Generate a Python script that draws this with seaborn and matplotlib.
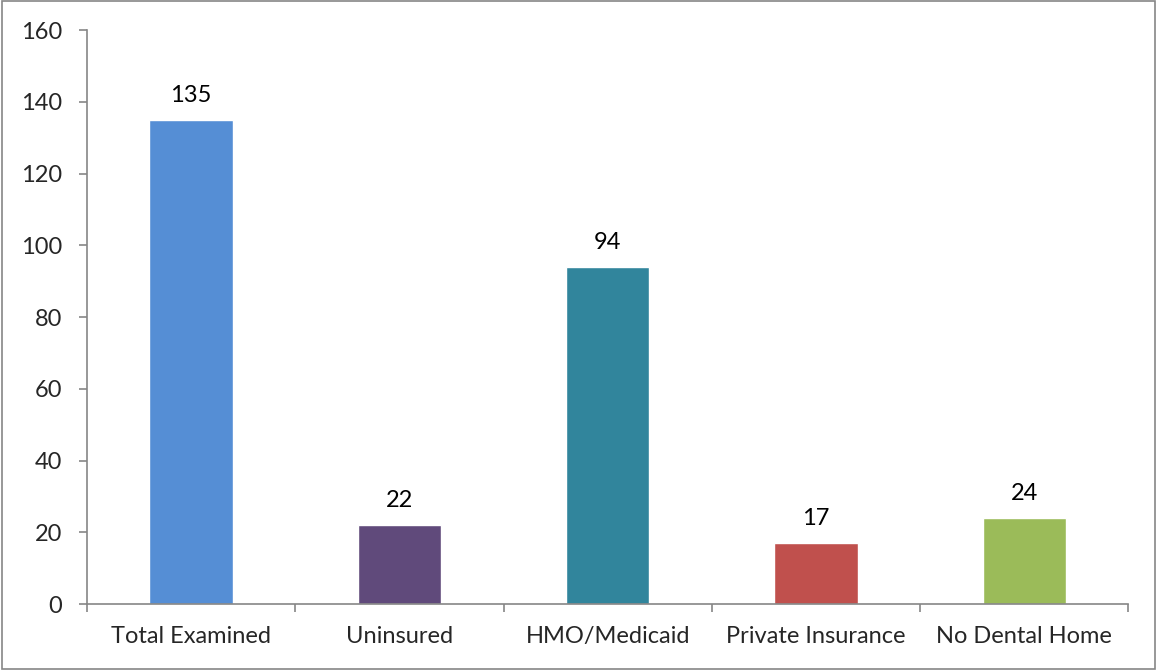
import matplotlib
matplotlib.use("Agg")
import matplotlib.pyplot as plt
import matplotlib.patches as mpatches
from matplotlib.ticker import FixedLocator
import pandas as pd
import seaborn as sns

# ── Dados ─────────────────────────────────────────────────────
categories = ["Total Examined", "Uninsured", "HMO/Medicaid",
              "Private Insurance", "No Dental Home"]
counts = [135, 22, 94, 17, 24]
colors = ["#558ED5", "#604A7B", "#31859C", "#C0504D", "#9BBB59"]
y_ticks = [0, 20, 40, 60, 80, 100, 120, 140, 160]

df = pd.DataFrame({"category": categories, "count": counts})

# ── Estilo ────────────────────────────────────────────────────
sns.set_style("white")
plt.rcParams["font.family"] = ["Lato", "DejaVu Sans"]
AXIS_GREY = "#868686"
FS = 17

fig = plt.figure(figsize=(11.57, 6.70), dpi=100)
ax = fig.add_axes([0.0752, 0.0985, 0.9, 0.8565])

sns.barplot(data=df, x="category", y="count", hue="category",
            palette=colors, legend=False, width=0.40, saturation=1,
            ax=ax)

for i, v in enumerate(counts):
    ax.annotate(str(v), (i, v), xytext=(0, 13), textcoords="offset points",
                ha="center", va="baseline", fontsize=FS, color="black")

ax.set_ylim(0, 160)
ax.set_xlim(-0.5, len(categories) - 0.5)
ax.set_yticks(y_ticks)
ax.set_xlabel("")
ax.set_ylabel("")

for side in ["top", "right"]:
    ax.spines[side].set_visible(False)
for side in ["left", "bottom"]:
    ax.spines[side].set_color(AXIS_GREY)
    ax.spines[side].set_linewidth(1.2)

ax.tick_params(axis="y", direction="out", length=6, width=1.2,
               color=AXIS_GREY, labelsize=FS, pad=12, left=True)
ax.tick_params(axis="x", which="major", length=0, labelsize=FS, pad=16)
ax.xaxis.set_minor_locator(FixedLocator([i - 0.5 for i in range(len(categories) + 1)]))
ax.tick_params(axis="x", which="minor", direction="out", length=6,
               width=1.2, color=AXIS_GREY, bottom=True)

# borda da figura
fig.patches.append(mpatches.Rectangle((0.002, 0.002), 0.996, 0.996,
                                      transform=fig.transFigure,
                                      fill=False, edgecolor=AXIS_GREY,
                                      linewidth=1.2))

fig.savefig("out.png", dpi=100)
